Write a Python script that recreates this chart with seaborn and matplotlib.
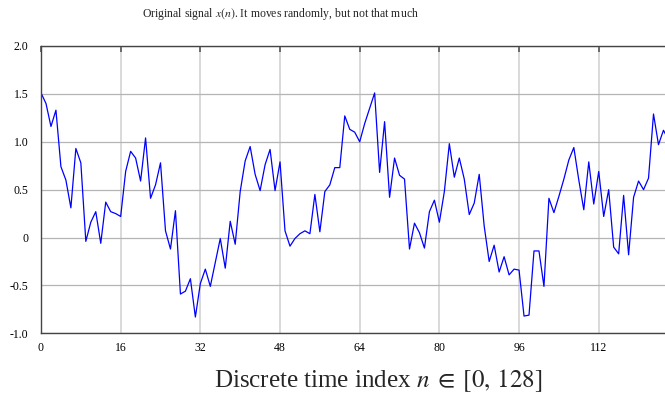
import matplotlib
matplotlib.use("Agg")
import matplotlib.pyplot as plt
import numpy as np
import pandas as pd
import seaborn as sns

# Signal samples x(n), n = 0 .. 127
signal = [
    1.51, 1.40, 1.16, 1.33, 0.74, 0.60, 0.31, 0.93, 0.78, -0.04,
    0.16, 0.27, -0.06, 0.37, 0.27, 0.25, 0.22, 0.69, 0.90, 0.83,
    0.59, 1.04, 0.41, 0.55, 0.78, 0.07, -0.12, 0.28, -0.59, -0.56,
    -0.43, -0.83, -0.48, -0.33, -0.51, -0.26, -0.01, -0.32, 0.17, -0.07,
    0.48, 0.80, 0.95, 0.66, 0.49, 0.76, 0.92, 0.49, 0.79, 0.07,
    -0.09, -0.01, 0.04, 0.07, 0.04, 0.45, 0.06, 0.48, 0.55, 0.73,
    0.73, 1.27, 1.13, 1.10, 1.00, 1.19, 1.35, 1.51, 0.68, 1.21,
    0.42, 0.83, 0.65, 0.61, -0.12, 0.15, 0.05, -0.11, 0.27, 0.39,
    0.16, 0.48, 0.98, 0.63, 0.83, 0.61, 0.24, 0.36, 0.66, 0.12,
    -0.25, -0.08, -0.36, -0.20, -0.39, -0.33, -0.34, -0.82, -0.81, -0.14,
    -0.14, -0.51, 0.41, 0.26, 0.43, 0.61, 0.81, 0.94, 0.60, 0.29,
    0.79, 0.35, 0.69, 0.22, 0.50, -0.10, -0.17, 0.44, -0.18, 0.42,
    0.59, 0.50, 0.62, 1.29, 0.97, 1.12, 1.02, 1.08,
]
n_index = list(range(len(signal)))

x_ticks = [0, 16, 32, 48, 64, 80, 96, 112, 128]
x_tick_labels = ["0", "16", "32", "48", "64", "80", "96", "112", ""]
y_ticks = [-1.0, -0.5, 0.0, 0.5, 1.0, 1.5, 2.0]
y_tick_labels = ["-1.0", "-0.5", "0", "0.5", "1.0", "1.5", "2.0"]

title_text = r"Original signal $x(n)$. It moves randomly, but not that much"
xlabel_text = r"Discrete time index $n\;\in\;[0,\, 128]$"

sns.set_style("white")
plt.rcParams["font.family"] = ["Liberation Serif", "DejaVu Serif"]
plt.rcParams["mathtext.fontset"] = "stix"

df = pd.DataFrame({"n": n_index, "x": signal})

fig = plt.figure(figsize=(6.65, 4.0), dpi=100)
# the axes run slightly past the right edge of the canvas
ax = fig.add_axes([41 / 665, 66.7 / 400, 637.4 / 665, 287.3 / 400])

sns.lineplot(data=df, x="n", y="x", ax=ax, color="#0000ff", linewidth=0.9)

ax.set_xlim(0, 128)
ax.set_ylim(-1.0, 2.0)
ax.set_xticks(x_ticks)
ax.set_xticklabels(x_tick_labels)
ax.set_yticks(y_ticks)
ax.set_yticklabels(y_tick_labels)

# grid: faint wide verticals, darker thin horizontals
ax.xaxis.grid(True, color="#d9d9d9", linewidth=1.4)
ax.yaxis.grid(True, color="#b4b4b4", linewidth=0.9)
ax.set_axisbelow(True)

ax.tick_params(axis="both", direction="in", colors="#555555",
               labelcolor="black", labelsize=8.5, width=1.2)
ax.tick_params(axis="y", length=9, pad=9)
ax.tick_params(axis="x", length=4, pad=6)
ax.tick_params(top=True, which="both")

for side in ["left", "bottom", "top", "right"]:
    ax.spines[side].set_color("#444444")
    ax.spines[side].set_linewidth(1.0)

ax.set_xlabel("")
ax.set_ylabel("")

fig.text(280 / 665, 1 - 14 / 400, title_text, ha="center", va="center",
         fontsize=8.5)
fig.text(378 / 665, 1 - 381 / 400, xlabel_text, ha="center", va="center",
         fontsize=18)

fig.savefig("out.png", dpi=100)
